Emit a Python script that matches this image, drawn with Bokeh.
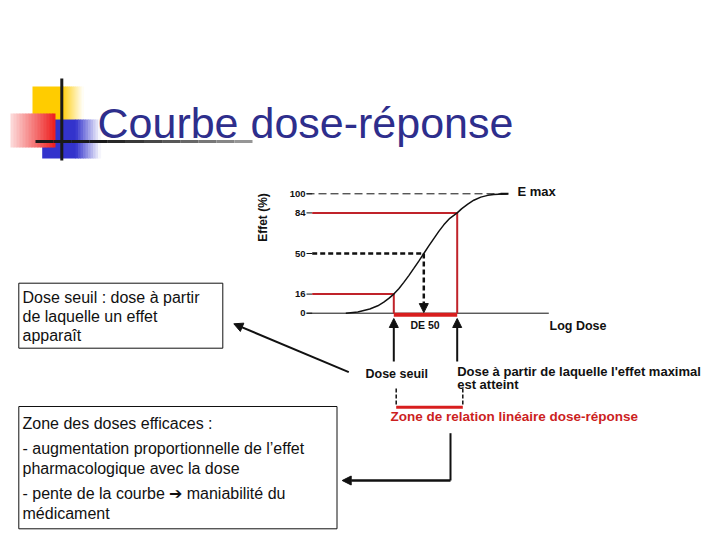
import math
from bokeh.plotting import figure
from bokeh.models import Range1d, Arrow, NormalHead
from bokeh.core.properties import value
from bokeh.embed import file_html
from bokeh.resources import INLINE

# ---------------- data ----------------
log_dose = [-3.9, -3.3, -2.7, -2.3, -2.0, -1.75, -1.5, -1.25, -1.0, -0.75, -0.5, -0.25, 0.0,
            0.25, 0.5, 0.75, 1.0, 1.3, 1.67, 1.9, 2.2, 2.5, 2.85, 3.2, 3.5, 4.2]
effect = [0, 1.0, 3.5, 6.2, 9.2, 12.4, 16, 20.5, 25.8, 31.5, 37.5, 43.6, 50,
          56.4, 62.5, 68.5, 74, 79.5, 84, 87.6, 91.3, 94.6, 97.2, 98.7, 99.4, 100]
tick_values = [0, 16, 50, 84, 100]
tick_labels = ["0", "16", "50", "84", "100"]
dose_seuil = -1.5      # DE16
de50 = 0.0             # DE50
dose_max = 1.67        # DE84
e_max = 100

title = "Courbe dose-réponse"
box1_lines = ["Dose seuil : dose à partir", "de laquelle un effet", "apparaît"]
box2_lines = ["Zone des doses efficaces :",
              "- augmentation proportionnelle de l’effet",
              "pharmacologique avec la dose",
              "- pente de la courbe ➔ maniabilité du",
              "médicament"]

# ---------------- page geometry helpers (image pixels -> data units) ----------------
PX0, PXU = 423.3, 20.0     # pixel of log dose 0, px per log unit
PY0, PYU = 312.7, 1.194    # pixel of 0 %, px per %


def X(px):
    return (px - PX0) / PXU


def Y(py):
    return (PY0 - py) / PYU


FONT = value("Liberation Sans")
RED = "#C0232A"
RED2 = "#D81E1E"
BLACK = "#111111"

p = figure(width=720, height=540, output_backend="svg", toolbar_location=None,
           x_range=Range1d(X(0), X(720)), y_range=Range1d(Y(540), Y(0)),
           x_axis_location=None, y_axis_location=None, min_border=0)
p.outline_line_color = None
p.background_fill_color = "white"
p.border_fill_color = "white"
p.xgrid.grid_line_color = None
p.ygrid.grid_line_color = None


def mix(c, t):
    # blend colour c (r,g,b) with white; t=1 -> c, t=0 -> white
    r, g, b = c
    return "#%02x%02x%02x" % (round(255 + (r - 255) * t), round(255 + (g - 255) * t), round(255 + (b - 255) * t))


# ---------------- logo decoration ----------------
# yellow square
p.quad(left=X(32), right=X(63.5), top=Y(86), bottom=Y(120), fill_color="#FFCC00", line_color=None)
n = 10
for i in range(n):
    t = 1 - (i + 0.5) / n
    p.quad(left=X(63 + i * 2), right=X(65.6 + i * 2), top=Y(86), bottom=Y(120),
           fill_color=mix((255, 204, 0), t * 0.9), line_color=None)
# blue rectangle
p.quad(left=X(41.7), right=X(75.5), top=Y(119), bottom=Y(158), fill_color="#3333CC", line_color=None)
for i in range(n):
    t = 1 - (i + 0.5) / n
    p.quad(left=X(75 + i * 2.5), right=X(78.1 + i * 2.5), top=Y(119), bottom=Y(158),
           fill_color=mix((51, 51, 204), t), line_color=None)
# red rectangle (gradient, opaque)
m = 15
for i in range(m):
    t = 0.15 + 0.85 * (i + 0.5) / m
    p.quad(left=X(10 + i * 3), right=X(13.7 + i * 3) if i < m - 1 else X(55), top=Y(113), bottom=Y(147),
           fill_color=mix((238, 28, 28), t), line_color=None)
# black lines
p.line([X(61.3), X(61.3)], [Y(78), Y(160)], line_color="#1a1a1a", line_width=3)
segs = 12
for i in range(segs):
    a = 35 + (252 - 35) * i / segs
    b = 35 + (252 - 35) * (i + 1) / segs
    g = int(26 + (150 - 26) * max(0, (i - 3)) / (segs - 4))
    p.line([X(a), X(b)], [Y(141), Y(141)], line_color="#%02x%02x%02x" % (g, g, g), line_width=3)

# title
p.text(x=[X(97)], y=[Y(122)], text=[title], text_font=FONT, text_font_size="43px",
       text_color="#2E2E8C", text_baseline="alphabetic", text_align="left")

# ---------------- dose-response chart ----------------
# baseline axis
p.line([X(306), X(548.3)], [0, 0], line_color=BLACK, line_width=1)
# E max dashed line
p.line([X(306), X(506)], [e_max, e_max], line_color=BLACK, line_width=1, line_dash="8 4")
# tick dashes
for v in tick_values:
    p.line([X(306), X(311.7)], [v, v], line_color=BLACK, line_width=1)
# red 84 and 16 reference lines
p.line([X(311.7), dose_max, dose_max], [84, 84, 0], line_color=RED, line_width=2)
p.line([X(311.7), dose_seuil, dose_seuil], [16, 16, 0], line_color=RED, line_width=2)
# thick red zone on axis
p.line([dose_seuil, dose_max], [-1.25, -1.25], line_color=RED2, line_width=4)
# DE50 dashed lines
p.line([X(311.7), de50], [50, 50], line_color=BLACK, line_width=2.5, line_dash="5 3")
p.add_layout(Arrow(x_start=de50, y_start=50, x_end=de50, y_end=0.5, line_color=BLACK,
                   line_width=2.5, line_dash="5 3",
                   end=NormalHead(size=9, fill_color=BLACK, line_color=BLACK)))
# curve
p.line(log_dose, effect, line_color=BLACK, line_width=1.5)
# short heavier tip toward "E max"
p.line([X(500), X(508)], [e_max, e_max], line_color=BLACK, line_width=2)

# tick labels
p.text(x=[X(305)] * len(tick_values), y=tick_values, text=tick_labels, text_font=FONT,
       text_font_size="9.5px", text_font_style="bold", text_color=BLACK,
       text_align="right", text_baseline="middle")
# axis titles
p.text(x=[X(262)], y=[Y(217)], text=["Effet (%)"], angle=math.pi / 2, text_font=FONT,
       text_font_size="12px", text_font_style="bold", text_color=BLACK,
       text_align="center", text_baseline="middle")
p.text(x=[X(549)], y=[Y(325.5)], text=["Log Dose"], text_font=FONT, text_font_size="12.5px",
       text_font_style="bold", text_color=BLACK, text_align="left", text_baseline="middle")
p.text(x=[X(517)], y=[Y(190.5)], text=["E max"], text_font=FONT, text_font_size="13px",
       text_font_style="bold", text_color=BLACK, text_align="left", text_baseline="middle")
p.text(x=[X(424.5)], y=[Y(324)], text=["DE 50"], text_font=FONT, text_font_size="10.5px",
       text_font_style="bold", text_color=BLACK, text_align="center", text_baseline="middle")

# up arrows
for xd in (dose_seuil, dose_max):
    p.add_layout(Arrow(x_start=xd, y_start=Y(361), x_end=xd, y_end=Y(318), line_color=BLACK,
                       line_width=2, end=NormalHead(size=9, fill_color=BLACK, line_color=BLACK)))

p.text(x=[X(365)], y=[Y(373.5)], text=["Dose seuil"], text_font=FONT, text_font_size="12.5px",
       text_font_style="bold", text_color=BLACK, text_align="left", text_baseline="middle")
p.text(x=[X(456.7)] * 2, y=[Y(371), Y(384)],
       text=["Dose à partir de laquelle l'effet maximal", "est atteint"], text_font=FONT,
       text_font_size="13px", text_font_style="bold", text_color=BLACK,
       text_align="left", text_baseline="middle")

# bracket for linear zone
for px in (395.7, 462.3):
    p.line([X(px), X(px)], [Y(388), Y(405.5)], line_color=BLACK, line_width=1.5, line_dash="4 2")
p.line([X(395.7), X(462.3)], [Y(406.7), Y(406.7)], line_color=RED2, line_width=3)
p.text(x=[X(390)], y=[Y(416)], text=["Zone de relation linéaire dose-réponse"], text_font=FONT,
       text_font_size="13.5px", text_font_style="bold", text_color="#CC1F1F",
       text_align="left", text_baseline="middle")

# ---------------- text boxes ----------------
p.quad(left=X(18.3), right=X(222.3), top=Y(282.7), bottom=Y(347.7), fill_color=None,
       line_color=BLACK, line_width=1)
p.text(x=[X(22)] * 3, y=[Y(296.7), Y(316.2), Y(335.2)], text=box1_lines, text_font=FONT,
       text_font_size="16px", text_color=BLACK, text_align="left", text_baseline="middle")

p.quad(left=X(18.3), right=X(336.5), top=Y(406), bottom=Y(528.3), fill_color=None,
       line_color=BLACK, line_width=1)
p.text(x=[X(22)] * 5, y=[Y(423.3), Y(448.3), Y(468.3), Y(493.3), Y(513.3)], text=box2_lines,
       text_font=FONT, text_font_size="16px", text_color=BLACK, text_align="left",
       text_baseline="middle")

# connector arrows
p.add_layout(Arrow(x_start=X(348.3), y_start=Y(371.7), x_end=X(233.3), y_end=Y(323.3),
                   line_color=BLACK, line_width=2,
                   end=NormalHead(size=9, fill_color=BLACK, line_color=BLACK)))
p.line([X(450), X(450)], [Y(432.7), Y(480)], line_color=BLACK, line_width=2)
p.add_layout(Arrow(x_start=X(450), y_start=Y(480), x_end=X(341.7), y_end=Y(480),
                   line_color=BLACK, line_width=2.5,
                   end=NormalHead(size=9, fill_color=BLACK, line_color=BLACK)))

open("out.html", "w").write(file_html(p, INLINE))
